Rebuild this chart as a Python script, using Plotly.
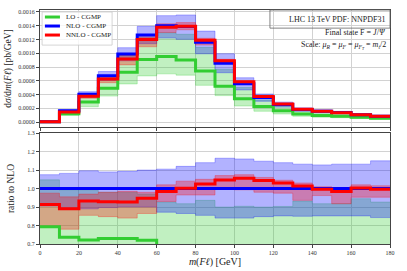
import plotly.graph_objects as go
from plotly.subplots import make_subplots

# ---------------- data ----------------
bin_edges = [0, 10, 20, 30, 40, 50, 60, 70, 80, 90, 100, 110, 120, 130, 140, 150, 160, 170, 180]

# NLO central cross section [pb/GeV]
nlo = [0.000003, 0.000165, 0.000403, 0.000674, 0.000989, 0.001265, 0.00140, 0.00139, 0.00116,
       0.000853, 0.000555, 0.000355, 0.000254, 0.000182, 0.000157, 0.000137, 0.000106, 0.000083]

# ratios to NLO (central)
lo_ratio = [0.793, 0.736, 0.721, 0.73, 0.73, 0.72, 0.68, 0.65, 0.64,
            0.61, 0.61, 0.63, 0.64, 0.64, 0.60, 0.62, 0.64, 0.65]
nnlo_ratio = [0.914, 0.89, 0.932, 0.928, 0.927, 0.948, 0.984, 1.002, 1.025,
              1.046, 1.055, 1.043, 1.03, 1.014, 0.996, 0.984, 1.003, 0.996]

# scale-uncertainty bands, as ratio to NLO central
lo_band_lo = [0.60, 0.58, 0.55, 0.56, 0.56, 0.53, 0.50, 0.49, 0.46,
              0.45, 0.42, 0.44, 0.46, 0.46, 0.45, 0.46, 0.47, 0.48]
lo_band_hi = [1.047, 0.99, 0.99, 0.98, 0.98, 0.97, 0.927, 0.918, 0.936,
              0.90, 0.904, 0.90, 0.903, 0.932, 0.918, 0.918, 0.945, 0.927]
nlo_band_lo = [0.905, 0.89, 0.89, 0.897, 0.90, 0.90, 0.872, 0.865, 0.855,
               0.84, 0.84, 0.848, 0.852, 0.85, 0.852, 0.852, 0.852, 0.843]
nlo_band_hi = [1.075, 1.082, 1.096, 1.09, 1.093, 1.10, 1.105, 1.12, 1.14,
               1.164, 1.16, 1.148, 1.14, 1.132, 1.128, 1.132, 1.132, 1.15]
nnlo_band_lo = [0.80, 0.78, 0.855, 0.848, 0.84, 0.865, 0.93, 0.965, 0.965,
                0.998, 0.993, 0.98, 0.975, 0.936, 0.962, 0.918, 0.953, 0.953]
nnlo_band_hi = [0.975, 0.955, 0.97, 0.98, 0.985, 0.98, 1.02, 1.04, 1.05,
                1.07, 1.075, 1.06, 1.045, 1.03, 1.01, 1.0, 1.02, 1.015]

series_names = ["LO - CGMP", "NLO - CGMP", "NNLO - CGMP"]
top_ticks = [0.0, 0.0002, 0.0004, 0.0006, 0.0008, 0.0010, 0.0012, 0.0014, 0.0016]
ratio_ticks = [0.7, 0.8, 0.9, 1.0, 1.1, 1.2, 1.3]
x_ticks = [0, 20, 40, 60, 80, 100, 120, 140, 160, 180]

# ---------------- helpers ----------------
def step(vals):
    return bin_edges, list(vals) + [vals[-1]]

def scale(r):
    return [a * b for a, b in zip(r, nlo)]

ones = [1.0] * len(nlo)

GREEN = "rgb(50,205,50)"
BLUE = "rgb(0,0,255)"
RED = "rgb(255,0,0)"
FONT = "Liberation Serif"

fig = make_subplots(rows=2, cols=1, shared_xaxes=True)

def add_band(lo, hi, rgb, row):
    x, ylo = step(lo)
    _, yhi = step(hi)
    edge = rgb.replace("rgb", "rgba").replace(")", ",0.35)")
    fillc = rgb.replace("rgb", "rgba").replace(")", ",0.3)")
    fig.add_trace(go.Scatter(x=x, y=ylo, mode="lines", line=dict(shape="hv", width=0.8, color=edge),
                             showlegend=False, hoverinfo="skip"), row=row, col=1)
    fig.add_trace(go.Scatter(x=x, y=yhi, mode="lines", line=dict(shape="hv", width=0.8, color=edge),
                             fill="tonexty", fillcolor=fillc, showlegend=False, hoverinfo="skip"),
                  row=row, col=1)

def add_line(vals, rgb, row, name):
    x, y = step(vals)
    fig.add_trace(go.Scatter(x=x, y=y, mode="lines", line=dict(shape="hv", width=3, color=rgb),
                             name=name, showlegend=False), row=row, col=1)

# top panel
add_band(scale(lo_band_lo), scale(lo_band_hi), GREEN, 1)
add_band(scale(nlo_band_lo), scale(nlo_band_hi), BLUE, 1)
add_band(scale(nnlo_band_lo), scale(nnlo_band_hi), RED, 1)
add_line(scale(lo_ratio), GREEN, 1, series_names[0])
add_line(nlo, BLUE, 1, series_names[1])
add_line(scale(nnlo_ratio), RED, 1, series_names[2])

# ratio panel
add_band(lo_band_lo, lo_band_hi, GREEN, 2)
add_band(nlo_band_lo, nlo_band_hi, BLUE, 2)
add_band(nnlo_band_lo, nnlo_band_hi, RED, 2)
add_line(lo_ratio, GREEN, 2, series_names[0])
add_line(ones, BLUE, 2, series_names[1])
add_line(nnlo_ratio, RED, 2, series_names[2])

axis_common = dict(showline=True, mirror=True, linecolor="#444", linewidth=1,
                   ticks="outside", ticklen=3, tickcolor="#444", tickwidth=0.8,
                   showgrid=True, gridcolor="#d2d2d2", gridwidth=1, zeroline=False,
                   automargin=False,
                   tickfont=dict(family=FONT, size=6, color="#333"))

fig.update_layout(
    width=407, height=271,
    margin=dict(l=40, r=17, t=10, b=27, autoexpand=False),
    paper_bgcolor="white", plot_bgcolor="white",
    showlegend=False,
    font=dict(family=FONT, color="#222"),
)
fig.update_xaxes(axis_common)
fig.update_yaxes(axis_common)
fig.update_xaxes(range=[0, 180], tickvals=x_ticks)
fig.update_layout(
    xaxis=dict(domain=[0, 1], showticklabels=False),
    yaxis=dict(domain=[0.5, 1.0], range=[-0.0000727, 0.001629], tickvals=top_ticks,
               tickformat=".4f",
               title=dict(text="d<i>σ</i>/d<i>m</i>(<i>F</i><i>ℓ</i>) [pb/GeV]",
                          font=dict(family=FONT, size=9.5), standoff=4)),
    xaxis2=dict(domain=[0, 1], showticklabels=True,
                title=dict(text="<i>m</i>(<i>Fℓ</i>) [GeV]", font=dict(family=FONT, size=10), standoff=2)),
    yaxis2=dict(domain=[0.0, 0.474], range=[0.7, 1.3], tickvals=ratio_ticks, tickformat=".1f",
                title=dict(text="ratio to NLO", font=dict(family=FONT, size=9.5), standoff=10)),
)

# manual legend (top-left of upper panel)
fig.add_shape(type="rect", xref="x domain", yref="y domain", x0=0.006, x1=0.206, y0=0.70, y1=0.983,
              line=dict(color="#cccccc", width=0.8), fillcolor="rgba(255,255,255,0.8)", layer="above")
leg_colors = [GREEN, BLUE, RED]
leg_y = [0.94, 0.863, 0.786]
for name, c, yy in zip(series_names, leg_colors, leg_y):
    fig.add_shape(type="line", xref="x domain", yref="y domain", x0=0.014, x1=0.057, y0=yy, y1=yy,
                  line=dict(color=c, width=3), layer="above")
    fig.add_annotation(xref="x domain", yref="y domain", x=0.068, y=yy, text=name, showarrow=False,
                       xanchor="left", yanchor="middle", font=dict(family=FONT, size=7, color="#222"))

# info box (top-right)
info_lines = [
    "LHC 13 TeV PDF: NNPDF31",
    "Final state F = <i>J</i>/<i>Ψ</i>",
    "Scale: <i>μ<sub>R</sub></i> = <i>μ<sub>F</sub></i> = <i>μ<sub>F<sub>T</sub></sub></i> = <i>m<sub>t</sub></i>/2",
]
info_y = [0.922, 0.81, 0.698]
for t, yy in zip(info_lines, info_y):
    fig.add_annotation(xref="x domain", yref="y domain", x=0.994, y=yy, text=t, showarrow=False,
                       xanchor="right", yanchor="middle", font=dict(family=FONT, size=8, color="#222"))
fig.add_shape(type="rect", xref="x domain", yref="y domain", x0=0.657, x1=1.0, y0=0.845, y1=1.0,
              line=dict(color="#666", width=0.8), fillcolor="rgba(0,0,0,0)", layer="above")

fig.write_html("out.html", config={"displayModeBar": False},
               post_script="document.body.style.margin='0px';")
